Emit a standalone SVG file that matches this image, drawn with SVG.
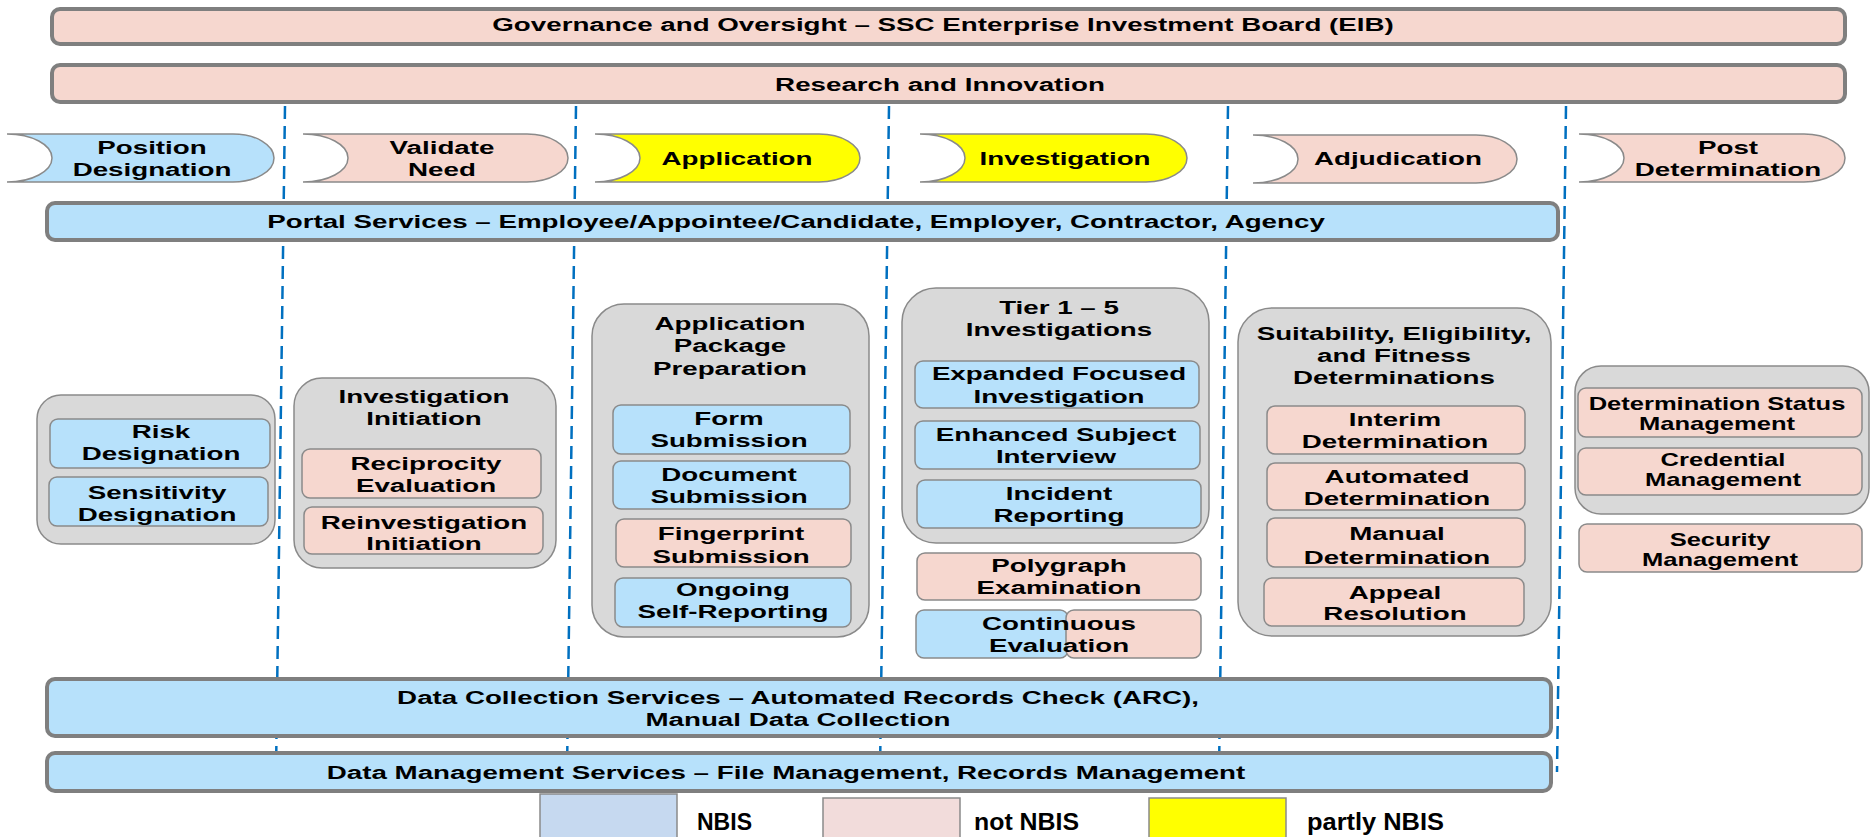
<svg xmlns="http://www.w3.org/2000/svg" width="1874" height="837" viewBox="0 0 1874 837">
<style>
text{font-family:"Liberation Sans",Arial,sans-serif;font-weight:bold;fill:#000;text-anchor:middle}
.t{font-size:19px}
.s{font-size:17.5px}
.lg{font-size:24px;text-anchor:start}
.bar{stroke:#7f7f7f;stroke-width:4}
.grp{fill:#d9d9d9;stroke:#8a8a8a;stroke-width:1.5}
.box{stroke:#8a8a8a;stroke-width:1.5}
.chev{stroke:#8a8a8a;stroke-width:1.5}
.blue{fill:#b7e1fb}
.pink{fill:#f6d7cf}
.yel{fill:#ffff00}
.dash{stroke:#0070c0;stroke-width:2.5;stroke-dasharray:13 7;fill:none}
</style>
<rect width="1874" height="837" fill="#fff"/>
<g id="connectors">
<line class="dash" x1="285" y1="106" x2="276" y2="772"/>
<line class="dash" x1="576" y1="106" x2="567" y2="772"/>
<line class="dash" x1="889" y1="106" x2="880" y2="772"/>
<line class="dash" x1="1228" y1="106" x2="1219" y2="772"/>
<line class="dash" x1="1566" y1="106" x2="1557" y2="772"/>
</g>
<g id="governance">
<rect class="bar pink" x="52" y="9" width="1793" height="35" rx="8"/>
<text class="t" transform="matrix(1.46 0 0 1 943 0)"><tspan x="0" y="31.5">Governance and Oversight – SSC Enterprise Investment Board (EIB)</tspan></text>
</g>
<g id="research">
<rect class="bar pink" x="52" y="65" width="1793" height="37" rx="8"/>
<text class="t" transform="matrix(1.46 0 0 1 940 0)"><tspan x="0" y="91">Research and Innovation</tspan></text>
</g>
<g id="phase-position">
<path class="chev blue" d="M7,134 H233 A41,24 0 0 1 233,182 H7 A45,24 0 0 0 7,134 Z"/>
<text class="t" transform="matrix(1.46 0 0 1 152 0)"><tspan x="0" y="154.5">Position</tspan><tspan x="0" y="176.5">Designation</tspan></text>
</g>
<g id="phase-validate">
<path class="chev pink" d="M303,134 H527 A41,24 0 0 1 527,182 H303 A45,24 0 0 0 303,134 Z"/>
<text class="t" transform="matrix(1.46 0 0 1 442 0)"><tspan x="0" y="154.5">Validate</tspan><tspan x="0" y="176.5">Need</tspan></text>
</g>
<g id="phase-application">
<path class="chev yel" d="M595,134 H819 A41,24 0 0 1 819,182 H595 A45,24 0 0 0 595,134 Z"/>
<text class="t" transform="matrix(1.46 0 0 1 737 0)"><tspan x="0" y="165.5">Application</tspan></text>
</g>
<g id="phase-investigation">
<path class="chev yel" d="M920,134 H1146 A41,24 0 0 1 1146,182 H920 A45,24 0 0 0 920,134 Z"/>
<text class="t" transform="matrix(1.46 0 0 1 1065 0)"><tspan x="0" y="165.5">Investigation</tspan></text>
</g>
<g id="phase-adjudication">
<path class="chev pink" d="M1253,135 H1476 A41,24 0 0 1 1476,183 H1253 A45,24 0 0 0 1253,135 Z"/>
<text class="t" transform="matrix(1.46 0 0 1 1398 0)"><tspan x="0" y="165.5">Adjudication</tspan></text>
</g>
<g id="phase-post">
<path class="chev pink" d="M1579,134 H1804 A41,24 0 0 1 1804,182 H1579 A45,24 0 0 0 1579,134 Z"/>
<text class="t" transform="matrix(1.46 0 0 1 1728 0)"><tspan x="0" y="154.5">Post</tspan><tspan x="0" y="176.5">Determination</tspan></text>
</g>
<g id="portal">
<rect class="bar blue" x="47" y="203" width="1511" height="37" rx="8"/>
<text class="t" transform="matrix(1.46 0 0 1 796 0)"><tspan x="0" y="228.5">Portal Services – Employee/Appointee/Candidate, Employer, Contractor, Agency</tspan></text>
</g>
<g id="group-position">
<rect class="grp" x="37" y="395" width="238" height="149" rx="24"/>
<g id="risk-designation">
<rect class="box blue" x="50" y="419" width="220" height="49" rx="8"/>
<text class="t" transform="matrix(1.46 0 0 1 161 0)"><tspan x="0" y="438.5">Risk</tspan><tspan x="0" y="460.5">Designation</tspan></text>
</g>
<g id="sensitivity-designation">
<rect class="box blue" x="49" y="477" width="219" height="49" rx="8"/>
<text class="t" transform="matrix(1.46 0 0 1 157 0)"><tspan x="0" y="499.5">Sensitivity</tspan><tspan x="0" y="521.5">Designation</tspan></text>
</g>
</g>
<g id="group-initiation">
<rect class="grp" x="294" y="378" width="262" height="190" rx="28"/>
<text class="t" transform="matrix(1.46 0 0 1 424 0)"><tspan x="0" y="403.5">Investigation</tspan><tspan x="0" y="425.5">Initiation</tspan></text>
<g id="reciprocity-evaluation">
<rect class="box pink" x="302" y="449" width="239" height="49" rx="8"/>
<text class="t" transform="matrix(1.46 0 0 1 426 0)"><tspan x="0" y="470.5">Reciprocity</tspan><tspan x="0" y="492.5">Evaluation</tspan></text>
</g>
<g id="reinvestigation-initiation">
<rect class="box pink" x="304" y="507" width="239" height="47" rx="8"/>
<text class="t" transform="matrix(1.46 0 0 1 424 0)"><tspan x="0" y="529.5">Reinvestigation</tspan><tspan x="0" y="550.5">Initiation</tspan></text>
</g>
</g>
<g id="group-application">
<rect class="grp" x="592" y="304" width="277" height="333" rx="32"/>
<text class="t" transform="matrix(1.46 0 0 1 730 0)"><tspan x="0" y="330.5">Application</tspan><tspan x="0" y="352.5">Package</tspan><tspan x="0" y="375.5">Preparation</tspan></text>
<g id="form-submission">
<rect class="box blue" x="613" y="405" width="237" height="49" rx="8"/>
<text class="t" transform="matrix(1.46 0 0 1 729 0)"><tspan x="0" y="425.5">Form</tspan><tspan x="0" y="447.5">Submission</tspan></text>
</g>
<g id="document-submission">
<rect class="box blue" x="613" y="461" width="237" height="48" rx="8"/>
<text class="t" transform="matrix(1.46 0 0 1 729 0)"><tspan x="0" y="481.5">Document</tspan><tspan x="0" y="503.5">Submission</tspan></text>
</g>
<g id="fingerprint-submission">
<rect class="box pink" x="616" y="519" width="235" height="48" rx="8"/>
<text class="t" transform="matrix(1.46 0 0 1 731 0)"><tspan x="0" y="540.5">Fingerprint</tspan><tspan x="0" y="563.5">Submission</tspan></text>
</g>
<g id="ongoing-self-reporting">
<rect class="box blue" x="615" y="578" width="236" height="49" rx="8"/>
<text class="t" transform="matrix(1.46 0 0 1 733 0)"><tspan x="0" y="596.5">Ongoing</tspan><tspan x="0" y="618.5">Self-Reporting</tspan></text>
</g>
</g>
<g id="group-investigations">
<rect class="grp" x="902" y="288" width="307" height="255" rx="34"/>
<text class="t" transform="matrix(1.46 0 0 1 1059 0)"><tspan x="0" y="314.5">Tier 1 – 5</tspan><tspan x="0" y="336.5">Investigations</tspan></text>
<g id="expanded-focused-investigation">
<rect class="box blue" x="915" y="361" width="284" height="47" rx="8"/>
<text class="t" transform="matrix(1.46 0 0 1 1059 0)"><tspan x="0" y="380.5">Expanded Focused</tspan><tspan x="0" y="403.5">Investigation</tspan></text>
</g>
<g id="enhanced-subject-interview">
<rect class="box blue" x="915" y="421" width="285" height="48" rx="8"/>
<text class="t" transform="matrix(1.46 0 0 1 1056 0)"><tspan x="0" y="441.5">Enhanced Subject</tspan><tspan x="0" y="463.5">Interview</tspan></text>
</g>
<g id="incident-reporting">
<rect class="box blue" x="917" y="480" width="284" height="48" rx="8"/>
<text class="t" transform="matrix(1.46 0 0 1 1059 0)"><tspan x="0" y="500.5">Incident</tspan><tspan x="0" y="522.5">Reporting</tspan></text>
</g>
</g>
<g id="polygraph-examination">
<rect class="box pink" x="917" y="553" width="284" height="47" rx="8"/>
<text class="t" transform="matrix(1.46 0 0 1 1059 0)"><tspan x="0" y="572.5">Polygraph</tspan><tspan x="0" y="594.5">Examination</tspan></text>
</g>
<g id="continuous-evaluation">
<rect class="box blue" x="916" y="610" width="152" height="48" rx="8"/>
<rect class="box pink" x="1066" y="610" width="135" height="48" rx="8"/>
<text class="t" transform="matrix(1.46 0 0 1 1059 0)"><tspan x="0" y="630.5">Continuous</tspan><tspan x="0" y="652.5">Evaluation</tspan></text>
</g>
<g id="group-determinations">
<rect class="grp" x="1238" y="308" width="313" height="328" rx="34"/>
<text class="t" transform="matrix(1.46 0 0 1 1394 0)"><tspan x="0" y="340.5">Suitability, Eligibility,</tspan><tspan x="0" y="362.5">and Fitness</tspan><tspan x="0" y="384.5">Determinations</tspan></text>
<g id="interim-determination">
<rect class="box pink" x="1267" y="406" width="258" height="48" rx="8"/>
<text class="t" transform="matrix(1.46 0 0 1 1395 0)"><tspan x="0" y="426.5">Interim</tspan><tspan x="0" y="448.5">Determination</tspan></text>
</g>
<g id="automated-determination">
<rect class="box pink" x="1267" y="463" width="258" height="47" rx="8"/>
<text class="t" transform="matrix(1.46 0 0 1 1397 0)"><tspan x="0" y="483.5">Automated</tspan><tspan x="0" y="505.5">Determination</tspan></text>
</g>
<g id="manual-determination">
<rect class="box pink" x="1267" y="518" width="258" height="49" rx="8"/>
<text class="t" transform="matrix(1.46 0 0 1 1397 0)"><tspan x="0" y="540.5">Manual</tspan><tspan x="0" y="564.5">Determination</tspan></text>
</g>
<g id="appeal-resolution">
<rect class="box pink" x="1264" y="578" width="260" height="48" rx="8"/>
<text class="t" transform="matrix(1.46 0 0 1 1395 0)"><tspan x="0" y="599.5">Appeal</tspan><tspan x="0" y="620.5">Resolution</tspan></text>
</g>
</g>
<g id="group-post">
<rect class="grp" x="1575" y="366" width="294" height="148" rx="26"/>
<g id="determination-status-management">
<rect class="box pink" x="1578" y="388" width="284" height="49" rx="8"/>
<text class="s" transform="matrix(1.46 0 0 1 1717 0)"><tspan x="0" y="410">Determination Status</tspan><tspan x="0" y="430">Management</tspan></text>
</g>
<g id="credential-management">
<rect class="box pink" x="1578" y="448" width="284" height="47" rx="8"/>
<text class="s" transform="matrix(1.46 0 0 1 1723 0)"><tspan x="0" y="466">Credential</tspan><tspan x="0" y="486">Management</tspan></text>
</g>
</g>
<g id="security-management">
<rect class="box pink" x="1579" y="524" width="283" height="48" rx="8"/>
<text class="s" transform="matrix(1.46 0 0 1 1720 0)"><tspan x="0" y="546">Security</tspan><tspan x="0" y="566">Management</tspan></text>
</g>
<g id="data-collection">
<rect class="bar blue" x="47" y="679" width="1504" height="57" rx="8"/>
<text class="t" transform="matrix(1.46 0 0 1 798 0)"><tspan x="0" y="704.5">Data Collection Services – Automated Records Check (ARC),</tspan><tspan x="0" y="726.5">Manual Data Collection</tspan></text>
</g>
<g id="data-management">
<rect class="bar blue" x="47" y="753" width="1504" height="38" rx="8"/>
<text class="t" transform="matrix(1.46 0 0 1 786 0)"><tspan x="0" y="779.5">Data Management Services – File Management, Records Management</tspan></text>
</g>
<g id="legend">
<rect class="box" x="540" y="794" width="137" height="50" fill="#c6d9f0"/>
<text class="lg" x="697" y="830" textLength="55" lengthAdjust="spacingAndGlyphs">NBIS</text>
<rect class="box" x="823" y="798" width="137" height="46" fill="#f2dcdb"/>
<text class="lg" x="974" y="830" textLength="105" lengthAdjust="spacingAndGlyphs">not NBIS</text>
<rect class="box" x="1149" y="798" width="137" height="46" fill="#ffff00"/>
<text class="lg" x="1307" y="830" textLength="137" lengthAdjust="spacingAndGlyphs">partly NBIS</text>
</g>
</svg>
